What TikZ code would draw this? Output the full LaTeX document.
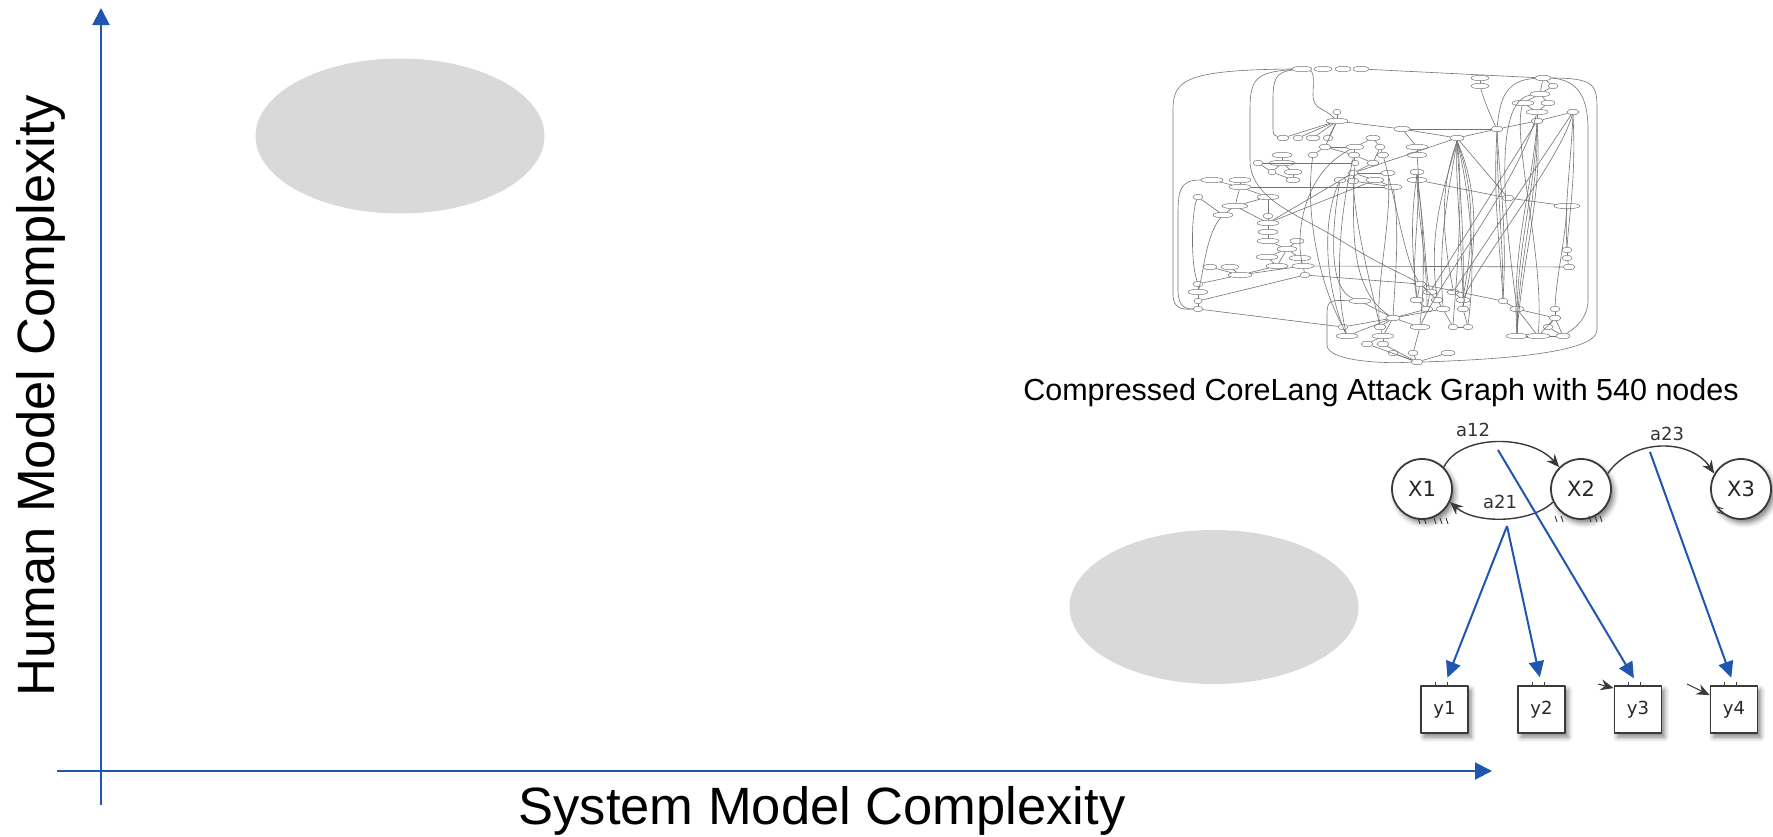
\documentclass[tikz,border=0pt]{standalone}
\usepackage{fontspec}
\setmainfont{Liberation Sans}
\newfontfamily\dejavu{DejaVu Sans}
\usetikzlibrary{arrows.meta,shapes.geometric,shadows.blur,calc}
\definecolor{axisblue}{HTML}{1F56AE}
\definecolor{blobgray}{HTML}{D9D9D9}
\definecolor{hmmline}{HTML}{3A3A3A}
\tikzset{
  axis/.style={draw=axisblue, line width=2pt, -{Triangle[length=17pt,width=17pt]}},
  blob/.style={ellipse, fill=blobgray, draw=none, inner sep=0pt},
  softshadow/.style={blur shadow={shadow xshift=3pt, shadow yshift=-4pt, shadow blur radius=5pt, shadow opacity=50}},
  state/.style={circle, draw=hmmline, line width=1.8pt, fill=white, minimum size=60pt, inner sep=0pt,
    font=\dejavu\fontsize{21}{24}\selectfont, text=black!85, softshadow},
  obs/.style={rectangle, draw=hmmline, line width=1.8pt, fill=white, minimum size=47pt, inner sep=0pt,
    font=\dejavu\fontsize{18}{20}\selectfont, text=black!85, softshadow},
  trans/.style={draw=hmmline, line width=1.4pt, -{Stealth[length=13pt,width=11pt]}},
  emit/.style={draw=axisblue, line width=2pt, -{Triangle[length=16pt,width=15pt]}, shorten >=8pt},
  lab/.style={font=\dejavu\fontsize{18}{20}\selectfont, text=black!80, inner sep=0pt},
  tick/.style={draw=hmmline, line width=1pt},
  agn/.style={ellipse, draw=black!55, line width=0.5pt, fill=white, minimum height=5.5pt, inner sep=0pt},
  agl/.style={draw=black!55, line width=0.6pt},
}
\begin{document}
\begin{tikzpicture}[x=1pt, y=-1pt, line join=round]
\useasboundingbox (0,0) rectangle (1773,836);

% grey regions of the complexity plane
\node[blob, minimum width=289pt, minimum height=155pt] (hblob) at (400,136) {};
\node[blob, minimum width=289pt, minimum height=154pt] (sblob) at (1214,607) {};

% axes
\coordinate (yfoot) at (101,805);
\coordinate (ytop) at (101,8);
\coordinate (xfoot) at (57,771);
\coordinate (xtip) at (1492,771);
\draw[axis] (yfoot) -- (ytop);
\draw[axis] (xfoot) -- (xtip);
\node[font=\fontsize{52.5}{60}\selectfont] (xlab) at (822,811) {System Model Complexity};
\node[font=\fontsize{52.5}{60}\selectfont, rotate=90] (ylab) at (41,396) {Human Model Complexity};

% ---------------- attack graph ----------------
\foreach \n/\x/\y/\w in {
  t1/1302/69/20, t2/1323/69/18, t3/1343/69/16, t4/1361/69/16,
  r1/1480/78/18, r2/1480/86/18, r3/1543/78/16, r4/1553/86/10, r5/1540/94/20, r6/1523/103/22,
  r7/1548/103/14, r8/1537/112/22, r9/1537/121/12, r10/1573/112/12, r11/1497/129/12,
  m1/1337/112/8, m2/1337/121/22, m3/1402/129/16, m4/1457/138/14, m5/1283/138/12, m6/1298/138/10,
  m7/1313/138/14, m8/1328/138/10, m9/1325/147/12, m10/1355/147/18, m11/1373/138/14, m12/1380/147/10,
  m13/1313/155/10, m14/1354/155/12, m15/1383/155/12, m16/1417/147/22, m17/1417/155/20, m18/1282/155/20,
  m19/1258/163/10, m20/1282/163/26, m21/1272/172/8, m22/1293/172/18, m23/1293/180/14, m24/1355/163/8,
  m25/1373/163/12, m26/1353/173/10, m27/1388/173/14, m28/1417/172/14, m29/1417/180/20, m30/1340/180/12,
  m31/1353/181/12, m32/1375/180/18, m33/1393/187/18,
  l1/1212/180/22, l2/1240/180/22, l3/1240/187/22, l4/1198/197/10, l5/1268/197/22, l6/1235/206/26,
  l7/1223/215/20, l8/1268/216/10, l9/1268/223/22, l10/1268/232/20, l11/1268/241/22, l12/1297/241/14,
  l13/1287/249/20, l14/1267/257/22, l15/1300/258/22, l16/1277/266/22, l17/1303/266/22, l18/1210/267/14,
  l19/1230/267/18, l20/1240/275/24, l21/1305/275/10, l22/1198/284/10, l23/1198/292/20, l24/1198/301/8,
  l25/1198/309/10,
  c1/1420/284/12, c2/1360/301/22, c3/1430/292/14, c4/1453/292/12, c5/1417/300/14, c6/1437/300/12,
  c7/1463/300/14, c8/1427/309/12, c9/1443/309/14, c10/1463/309/12, c11/1393/318/14, c12/1343/327/10,
  c13/1380/327/12, c14/1420/327/20, c15/1453/327/10, c16/1468/327/10, c17/1347/336/22, c18/1383/336/22,
  c19/1367/344/12, c20/1383/344/12, c21/1393/353/10, c22/1413/353/10, c23/1448/353/14, c24/1417/362/12,
  s1/1508/198/12, s2/1567/206/26, s3/1567/250/10, s4/1567/258/10, s5/1569/267/12, s6/1503/301/10,
  s7/1517/309/14, s8/1555/309/10, s9/1555/318/12, s10/1517/336/22, s11/1538/336/24, s12/1563/336/14,
  s13/1548/327/10}
  \node[agn, minimum width=\w pt] (\n) at (\x,\y) {};

% short dependencies
\foreach \a/\b in {m1/m2, m2/m5, m2/m6, m2/m7, m2/m8, m2/m3, m2/m9, m3/m4, m3/m16, m16/m17,
  m9/m10, m9/m13, m9/m14, m10/m11, m11/m12, m12/m15, m10/m14, m14/m24, m14/m25, m12/m25,
  m25/m26, m26/m27, m26/m30, m26/m31, m26/m32, m28/m29, m18/m20, m19/m21, m20/m21, m20/m22,
  m22/m23, m21/m23, m31/m33, m32/m33, m26/m4, m3/r11, m4/r11, r11/r9, r1/r2, r3/r4, r3/r5,
  r4/r5, r5/r6, r5/r7, r6/r8, r7/r8, r8/r9, r10/r9, t4/r3, m29/s1, s1/s2, s3/s4, s4/s5,
  s6/s7, s7/s10, s7/s11, s8/s9, s9/s11, s9/s12, s13/s9, s13/s12, s10/s11, s11/s12, s7/s9,
  l1/l3, l2/l3, l3/l5, l3/l6, l4/l7, l5/l6, l5/l8, l6/l7, l6/l9, l8/l9, l9/l10, l10/l11,
  l11/l13, l12/l13, l13/l14, l13/l15, l13/l16, l14/l16, l15/l17, l16/l20, l18/l20, l19/l20,
  l17/l20, l20/l22, l22/l23, l23/l24, l24/l25, l9/m26, l17/l21, l21/l24, l3/m33, l25/c12,
  l17/s5, m32/l9, m19/m24, m4/s1,
  c1/c3, c1/c5, c1/c6, c3/c8, c4/c7, c5/c8, c6/c9, c7/c10, c8/c11, c9/c11, c11/c12, c11/c13,
  c11/c14, c11/c17, c11/c18, c12/c17, c13/c18, c14/c22, c15/c16, c18/c19, c18/c20, c19/c24,
  c20/c24, c21/c24, c22/c24, c23/c24, c2/c11, c10/c16, c9/c15, r10/c4, r9/c3, l21/c1, c1/s6}
  \draw[agl] (\a) -- (\b);

% long loops round the outside
\draw[agl] (t1.west) .. controls (1185,70) and (1173,80) .. (1173,110) -- (1173,295)
  .. controls (1173,308) and (1182,310) .. (l25.west);
\draw[agl] (t1) .. controls (1255,72) and (1250,80) .. (1250,110) -- (1250,160)
  .. controls (1250,200) and (1300,215) .. (1340,240) .. controls (1380,265) and (1405,275) .. (c1);
\draw[agl] (t1) .. controls (1275,72) and (1273,80) .. (1273,100) -- (1273,125) .. controls (1273,135) .. (m5);
\draw[agl] (t1) .. controls (1315,72) and (1313,85) .. (1313,95) .. controls (1313,110) and (1325,108) .. (m2);
\draw[agl] (r3.east) .. controls (1595,78) and (1597,85) .. (1597,110) -- (1597,330)
  .. controls (1597,355) and (1480,360) .. (c24.east);
\draw[agl] (r3.east) .. controls (1580,80) and (1588,100) .. (1588,130) -- (1588,300)
  .. controls (1588,320) and (1572,330) .. (s12);
\draw[agl] (c2) .. controls (1327,300) .. (1327,320) -- (1327,345) .. controls (1327,362) and (1390,364) .. (c24.west);
\draw[agl] (l1.west) .. controls (1180,180) and (1178,190) .. (1178,215) -- (1178,290)
  .. controls (1178,306) and (1185,309) .. (l25);
\draw[agl] (l4) .. controls (1192,210) and (1190,260) .. (l22);
\draw[agl] (l7) .. controls (1206,235) and (1204,270) .. (l23);
\draw[agl] (r2) .. controls (1484,100) and (1490,115) .. (r11);
\draw[agl] (r3) .. controls (1505,80) and (1500,100) .. (r11);

% curves through the middle
\draw[agl] (m13) .. controls (1305,210) and (1318,280) .. (c12);
\draw[agl] (m14) .. controls (1338,220) and (1335,290) .. (c17);
\draw[agl] (m24) .. controls (1352,230) and (1350,290) .. (c11);
\draw[agl] (m31) .. controls (1356,230) and (1372,290) .. (c13);
\draw[agl] (m30) .. controls (1330,240) and (1330,290) .. (c2);
\draw[agl] (m30) .. controls (1318,230) and (1330,300) .. (c17);
\draw[agl] (m15) .. controls (1398,210) and (1405,260) .. (c1);
\draw[agl] (m17) .. controls (1422,210) and (1410,260) .. (c5);
\draw[agl] (m29) .. controls (1425,230) and (1425,270) .. (c3);
\draw[agl] (m33) .. controls (1400,230) and (1395,280) .. (c11);
\draw[agl] (m27) .. controls (1392,220) and (1375,290) .. (c13);
\draw[agl] (m10) .. controls (1300,175) and (1296,240) .. (l17);
\draw[agl] (r8) .. controls (1520,180) and (1440,280) .. (c14);
\draw[agl] (r10) .. controls (1560,160) and (1480,260) .. (c7);
\draw[agl] (r5) .. controls (1492,100) and (1505,220) .. (s7);
\draw[agl] (r6) .. controls (1512,140) and (1545,260) .. (s11);
\draw[agl] (s2) .. controls (1565,240) and (1556,280) .. (s8);

% bundles of nearly vertical edges
\foreach \d/\t in {-14/c4, -10/c6, -6/c9, -2/c7, 2/c10, 6/c15, 10/c16, 14/c7, 18/c10}
  \draw[agl] (m4.south) .. controls ($(m4.south)+(\d,40)$) and ($(\t.north)+(\d,-70)$) .. (\t.north);
\foreach \d/\t in {-6/c5, 0/c8, 6/c14}
  \draw[agl] (m28.south) .. controls ($(m28.south)+(\d,40)$) and ($(\t.north)+(\d,-50)$) .. (\t.north);
\foreach \d in {-4,0,4}
  \draw[agl] (r11.south) .. controls ($(r11.south)+(\d,60)$) and ($(s6.north)+(\d,-60)$) .. (s6.north);
\foreach \d in {-6,-2,2,6}
  \draw[agl] (r9.south) .. controls ($(r9.south)+(\d,70)$) and ($(s10.north)+(\d,-80)$) .. (s10.north);
\foreach \d in {-3,3}
  \draw[agl] (r10.south) .. controls ($(r10.south)+(\d,60)$) and ($(s3.north)+(\d,-40)$) .. (s3.north);

\node[font=\fontsize{30.5}{36}\selectfont] (cap) at (1381,393) {Compressed CoreLang Attack Graph with 540 nodes};

% ---------------- hidden Markov model ----------------
\node[state] (X1) at (1422,489) {X1};
\node[state] (X2) at (1581,489) {X2};
\node[state] (X3) at (1741,489) {X3};

\draw[trans] (X1.45) .. controls (1460,434) and (1530,434) .. (X2.135);
\draw[trans] (X2.30) .. controls (1632,438) and (1690,438) .. (X3.150);
\draw[trans] (X2.205) .. controls (1530,524) and (1475,524) .. (X1.335);
\node[lab] (la12) at (1473,430) {a12};
\node[lab] (la23) at (1667,434) {a23};
\node[lab] (la21) at (1500,502) {a21};

% cut-off self loops under the states
\foreach \d in {-4,2,12,18,24}
  \draw[tick] ($(X1.south)+(\d,-2)$) -- ++(2,6);
\foreach \d in {-26,-20,8,14,19}
  \draw[tick] ($(X2.south)+(\d,-4)$) -- ++(2,6);
\foreach \d in {0,5}
  \draw[tick] ($(X3.south west)+(-2,\d-4)$) -- ++(6,2);

\node[obs] (y1) at (1444.5,709.5) {y1};
\node[obs] (y2) at (1541.5,709.5) {y2};
\node[obs] (y3) at (1638,709.5) {y3};
\node[obs] (y4) at (1734,709.5) {y4};
\foreach \b in {y1,y2,y3,y4}
  \foreach \d in {-9.5,2.5}
    \draw[tick] ($(\b.north)+(\d,0)$) -- ++(0,-3);

% emission arrows
\coordinate (e12) at (1498,450);
\coordinate (e21) at (1507,526);
\coordinate (e23) at (1650,452);
\draw[emit] (e21) -- (y1.north);
\draw[emit] (e21) -- (y2.north);
\draw[emit] (e12) -- (y3.north);
\draw[emit] (e23) -- (y4.north);

% cut-off arrows into y3 and y4
\coordinate (f3) at (1598,684);
\coordinate (f4) at (1687,684);
\draw[trans, line width=1pt] (f3) -- ($(y3.north west)+(0,3)$);
\draw[trans, line width=1pt] (f4) -- ($(y4.north west)+(0,10)$);
\end{tikzpicture}
\end{document}
